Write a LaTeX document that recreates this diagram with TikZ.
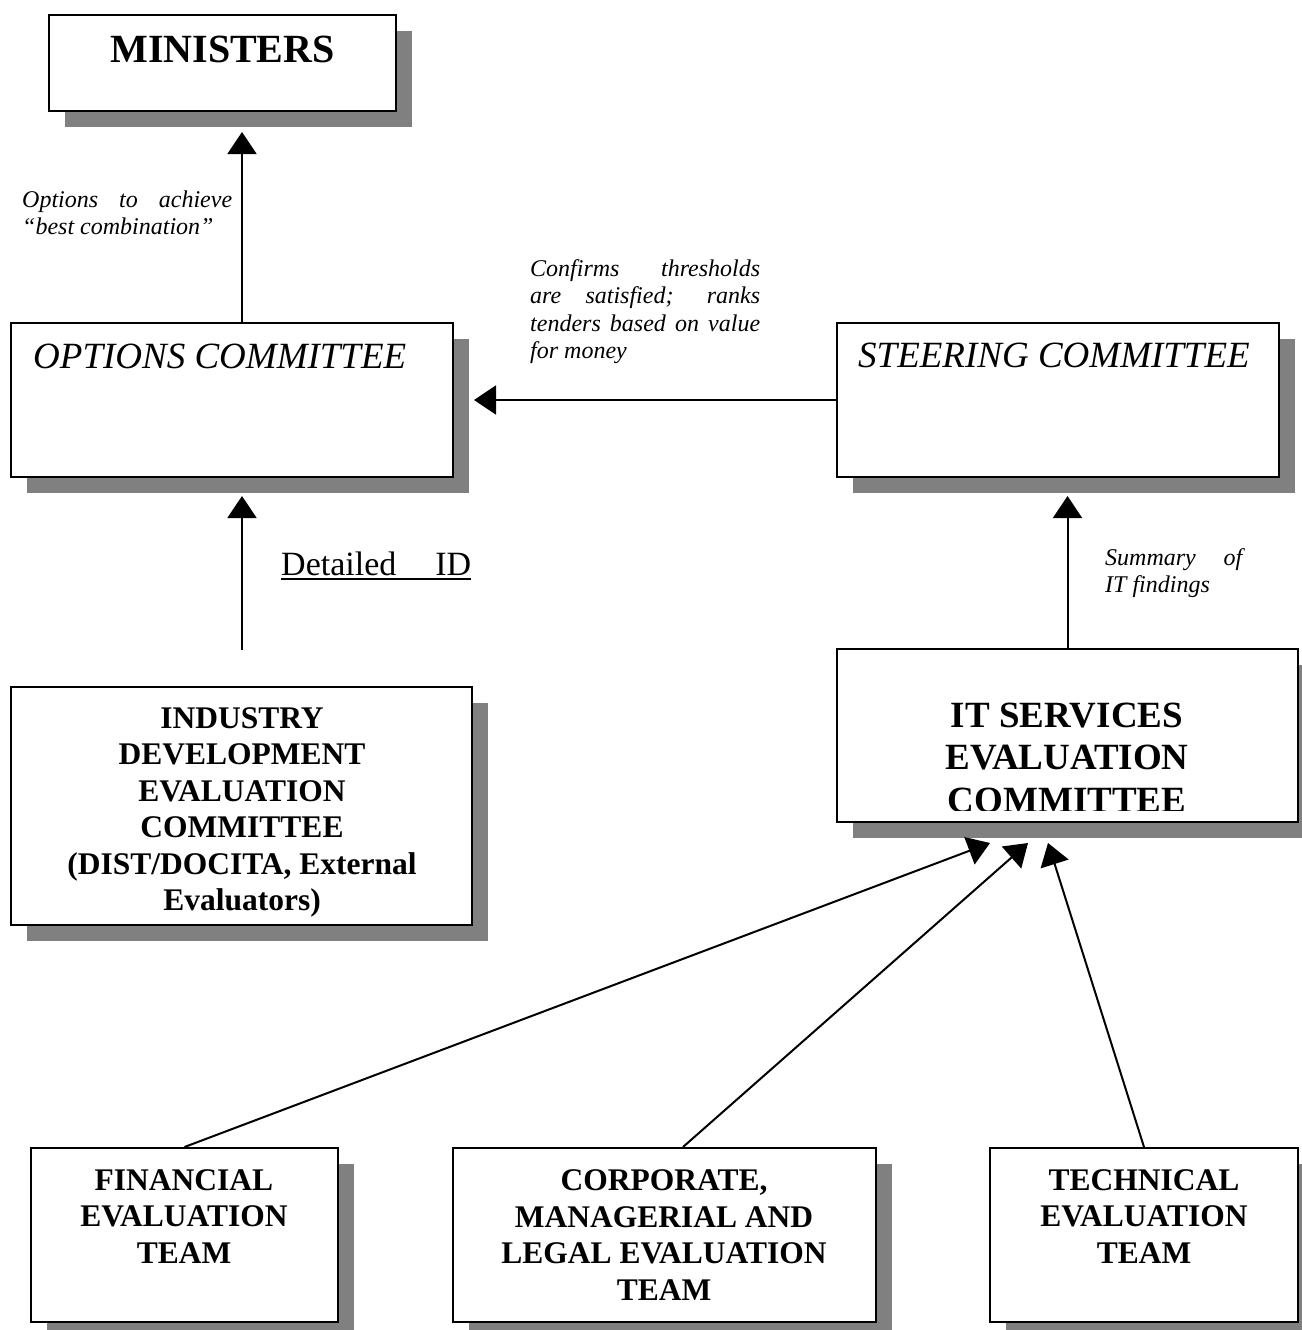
\documentclass[tikz,border=0pt]{standalone}
\usepackage{fontspec}
\setmainfont{Liberation Serif}
\usetikzlibrary{arrows.meta,shadows}
\definecolor{shadowgray}{HTML}{808080}
\begin{document}
\begin{tikzpicture}[x=1pt,y=-1pt,
  box/.style={draw, line width=2pt, fill=white, inner sep=0pt,
    general shadow={fill=shadowgray, shadow xshift=16pt, shadow yshift=-16pt}},
  arr/.style={line width=2pt, -{Triangle[length=22pt,width=29pt]}},
  boldtxt/.style={font=\bfseries\fontsize{31.5}{36.5}\selectfont, align=center, inner sep=0pt, anchor=base},
  boxtitle/.style={font=\itshape\fontsize{37}{42}\selectfont, inner sep=0pt, anchor=base west},
  lbl/.style={font=\itshape\fontsize{24}{27.6}\selectfont, align=justify, inner sep=0pt, anchor=base west}]
\useasboundingbox (0,0) rectangle (1301,1330);

% boxes
\node[box, minimum width=347pt, minimum height=96pt] (ministers) at (222.5,63) {};
\node[box, minimum width=442pt, minimum height=154pt] (options) at (232,400) {};
\node[box, minimum width=442pt, minimum height=154pt] (steering) at (1058,400) {};
\node[box, minimum width=461pt, minimum height=238pt] (idec) at (241.5,806) {};
\node[box, minimum width=461pt, minimum height=173pt] (itsec) at (1067.5,735.5) {};
\node[box, minimum width=307pt, minimum height=174pt] (fin) at (184.5,1235) {};
\node[box, minimum width=423pt, minimum height=174pt] (corp) at (664.5,1235) {};
\node[box, minimum width=308pt, minimum height=174pt] (tech) at (1144,1235) {};

% box texts (anchor=base is the baseline of the last line)
\node[font=\bfseries\fontsize{40}{46}\selectfont, inner sep=0pt, anchor=base] (ministers-t) at (222.5,63) {MINISTERS};
\node[boxtitle] (options-t) at (33,368) {OPTIONS COMMITTEE};
\node[boxtitle] (steering-t) at (858,367) {STEERING COMMITTEE};
\node[boldtxt] (idec-t) at (242,910.5) {INDUSTRY\\DEVELOPMENT\\EVALUATION\\COMMITTEE\\(DIST/DOCITA, External\\Evaluators)};
\begin{scope}
  \clip (838,650) rectangle (1297,810);
  \node[boldtxt, font=\bfseries\fontsize{37}{42.5}\selectfont] (itsec-t) at (1067,812) {IT SERVICES\\EVALUATION\\COMMITTEE};
\end{scope}
\node[boldtxt] (fin-t) at (184,1263) {FINANCIAL\\EVALUATION\\TEAM};
\node[boldtxt] (corp-t) at (664,1300) {CORPORATE,\\MANAGERIAL AND\\LEGAL EVALUATION\\TEAM};
\node[boldtxt] (tech-t) at (1144,1263) {TECHNICAL\\EVALUATION\\TEAM};

% labels
\node[lbl, text width=210pt] (optlbl) at (22,207) {Options to achieve\linebreak “best combination”};
\node[lbl, text width=230pt] (conflbl) at (530,276) {Confirms thresholds\linebreak are satisfied; ranks\linebreak tenders based on value\linebreak for money};
\node[lbl, text width=137pt] (sumlbl) at (1105,565) {Summary of\linebreak IT findings};
\node[font=\fontsize{34}{40}\selectfont, inner sep=0pt, anchor=base west] (detlbl) at (281,575)
  {\rlap{\rule[-5pt]{190pt}{2pt}}\makebox[190pt][s]{Detailed ID}};

% connectors
\coordinate (dstart) at (242,650);
\draw[arr] ([xshift=10pt]options.north) -- ([xshift=19.5pt,yshift=-20pt]ministers.south);
\draw[arr] (steering.west) -- ([xshift=20pt]options.east);
\draw[arr] (dstart) -- ([xshift=10pt,yshift=-18pt]options.south);
\draw[arr] (itsec.north) -- ([xshift=9.5pt,yshift=-18pt]steering.south);
\draw[arr] (fin.north) -- ([xshift=-77.5pt,yshift=-20pt]itsec.south);
\draw[arr] ([xshift=18.5pt]corp.north) -- ([xshift=-39.5pt,yshift=-20pt]itsec.south);
\draw[arr] (tech.north) -- ([xshift=-19.5pt,yshift=-20pt]itsec.south);
\end{tikzpicture}
\end{document}
